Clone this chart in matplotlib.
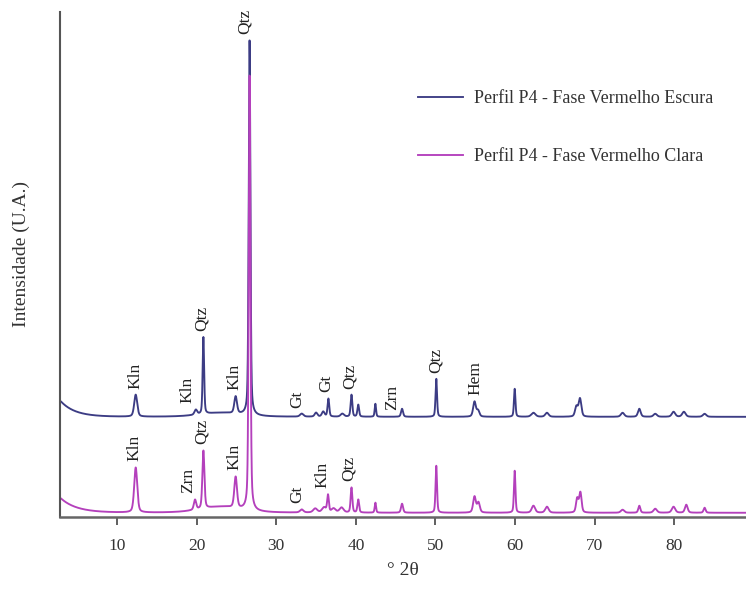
import numpy as np
import matplotlib
matplotlib.use("Agg")
import matplotlib.pyplot as plt

plt.rcParams['font.family'] = ['Liberation Serif', 'DejaVu Serif']

# ---------------- data ----------------
# Peak lists: position (deg 2theta), height (a.u.), FWHM (deg)
dark_pos = [12.35, 19.9, 20.85, 23.0, 24.9, 26.65, 33.2, 35.0, 35.9, 36.55, 38.3,
            39.45, 40.3, 42.45, 45.8, 50.1, 54.9, 55.35, 59.95, 62.3, 64.0,
            67.7, 68.15, 73.5, 75.6, 77.6, 79.9, 81.2, 83.8]
dark_h = [22, 5, 77, 4, 17, 375, 3, 4, 5, 18, 3,
          22, 12, 13, 8, 38, 15, 6, 28, 4, 4,
          10, 18, 4, 8, 3, 5, 5, 3]
dark_w = [0.45, 0.4, 0.22, 6.0, 0.4, 0.25, 0.5, 0.4, 0.4, 0.25, 0.5,
          0.25, 0.25, 0.2, 0.3, 0.22, 0.4, 0.4, 0.22, 0.6, 0.5,
          0.4, 0.4, 0.5, 0.4, 0.5, 0.5, 0.5, 0.5]
dark_base = 100
dark_low_amp, dark_low_decay = 15, 1.8

light_pos = [12.35, 19.8, 20.85, 23.0, 24.9, 26.65, 33.2, 34.9, 36.0, 37.2, 38.2,
             36.5, 39.45, 40.3, 42.45, 45.8, 50.1, 54.9, 55.4, 59.95, 62.3,
             64.0, 67.8, 68.2, 73.5, 75.6, 77.6, 79.9, 81.5, 83.8]
light_h = [45, 10, 58, 6, 31, 435, 3, 4, 5, 4, 5,
           17, 25, 13, 10, 9, 47, 16, 10, 42, 7,
           6, 14, 20, 3, 7, 4, 6, 8, 5]
light_w = [0.45, 0.35, 0.3, 6.0, 0.4, 0.25, 0.5, 0.6, 0.6, 0.6, 0.6,
           0.25, 0.25, 0.25, 0.2, 0.3, 0.22, 0.4, 0.4, 0.22, 0.5,
           0.5, 0.35, 0.35, 0.5, 0.3, 0.5, 0.5, 0.4, 0.3]
light_base = 4
light_low_amp, light_low_decay = 14, 2.0

# Phase labels: text, x position (deg)
dark_labels = ['Kln', 'Kln', 'Qtz', 'Kln', 'Qtz', 'Gt', 'Gt', 'Qtz', 'Zrn', 'Qtz', 'Hem']
dark_label_x = [12.3, 18.9, 20.6, 24.75, 26.1, 32.6, 36.3, 39.2, 44.5, 50.0, 55.0]
light_labels = ['Kln', 'Zrn', 'Qtz', 'Kln', 'Gt', 'Kln', 'Qtz']
light_label_x = [12.25, 18.9, 20.6, 24.75, 32.6, 35.75, 39.1]

series_names = ['Perfil P4 - Fase Vermelho Escura', 'Perfil P4 - Fase Vermelho Clara']
x_ticks = [10, 20, 30, 40, 50, 60, 70, 80]

# ---------------- build patterns ----------------
x = np.arange(3.0, 89.0, 0.01)


def pattern(pos, h, w, base, amp, decay):
    y = np.full_like(x, float(base))
    y += amp * np.exp(-(x - x[0]) / decay)
    for p, hh, ww in zip(pos, h, w):
        g = np.exp(-4 * np.log(2) * ((x - p) / ww) ** 2)
        l = 1.0 / (1 + 4 * ((x - p) / ww) ** 2)
        y += hh * (0.6 * g + 0.4 * l)
    return y


y_dark = pattern(dark_pos, dark_h, dark_w, dark_base, dark_low_amp, dark_low_decay)
y_light = pattern(light_pos, light_h, light_w, light_base, light_low_amp, light_low_decay)

c_dark = '#3c3c84'
c_light = '#b440bc'

fig = plt.figure(figsize=(7.46, 6.03), dpi=100)
ax = fig.add_axes([0.08, 0.143, 0.92, 0.837])

ax.plot(x, y_dark, color=c_dark, lw=1.35, label=series_names[0])
ax.plot(x, y_light, color=c_light, lw=1.35, label=series_names[1])

ax.set_xlim(2.8, 89)
ax.set_ylim(0, 505)


def put_labels(labels, lx, y, gap):
    for t, xx in zip(labels, lx):
        m = (x > xx - 1.0) & (x < xx + 1.0)
        yy = y[m].max() + gap
        ax.text(xx, yy, t, rotation=90, ha='center', va='bottom',
                fontsize=12.5, color='#222222', clip_on=False)


put_labels(dark_labels, dark_label_x, y_dark, 6)
put_labels(light_labels, light_label_x, y_light, 6)

for s in ['top', 'right']:
    ax.spines[s].set_visible(False)
ax.spines['left'].set_color('#555555')
ax.spines['bottom'].set_color('#666666')
ax.spines['left'].set_linewidth(1.5)
ax.spines['bottom'].set_linewidth(1.8)

ax.set_yticks([])
ax.set_xticks(x_ticks)
ax.tick_params(axis='x', direction='out', length=6, width=1.2, color='#444444',
               labelsize=12.5, pad=9, labelcolor='#333333')

ax.set_ylabel('Intensidade (U.A.)', fontsize=14, color='#333333')
ax.yaxis.set_label_coords(-0.043, 0.52)
ax.set_xlabel('° 2θ', fontsize=14, color='#333333', labelpad=6)

leg = fig.legend(loc='upper left', bbox_to_anchor=(0.560, 0.851), frameon=False,
                 fontsize=13, handlelength=2.5, handletextpad=0.63, labelspacing=2.3,
                 borderpad=0, borderaxespad=0)
for t in leg.get_texts():
    t.set_color('#333333')

fig.savefig('out.png', dpi=100)
